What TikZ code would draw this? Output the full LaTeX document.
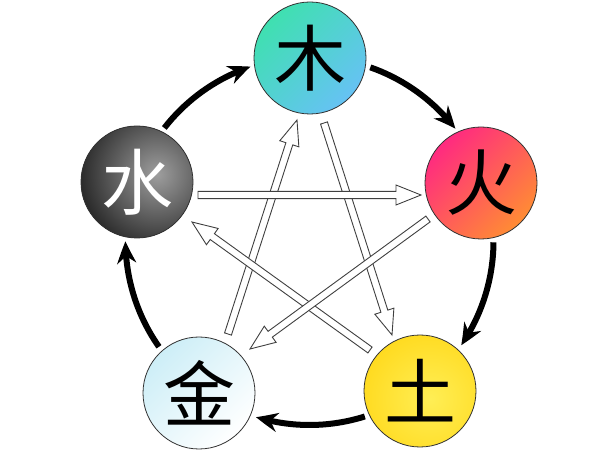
\documentclass[tikz,border=0pt]{standalone}
\usepackage{fontspec}
\newfontfamily\cjk{Noto Sans CJK SC}
\usetikzlibrary{arrows.meta,bending,calc}
\definecolor{muA}{HTML}{3FE0B0}
\definecolor{muB}{HTML}{66C2F4}
\definecolor{huoA}{HTML}{FF2A80}
\definecolor{huoB}{HTML}{FF8C34}
\definecolor{tuA}{HTML}{FFEE55}
\definecolor{tuB}{HTML}{FFCF00}
\definecolor{jinA}{HTML}{CDEEF7}
\definecolor{jinB}{HTML}{FFFFFF}
\newcommand\hollowarrow[2]{%
  \draw[hollowstyle] let \p1=(#1), \p2=(#2), \n1={atan2(\y2-\y1,\x2-\x1)} in
    ($(\p1)+(\n1+90:3.6pt)$) -- ($(\p2)+(\n1:-25pt)+(\n1+90:3.6pt)$)
    -- ($(\p2)+(\n1:-25pt)+(\n1+90:10pt)$) -- (\p2)
    -- ($(\p2)+(\n1:-25pt)+(\n1-90:10pt)$) -- ($(\p2)+(\n1:-25pt)+(\n1-90:3.6pt)$)
    -- ($(\p1)+(\n1-90:3.6pt)$) -- cycle;}
\begin{document}
\begin{tikzpicture}[x=1pt,y=1pt,
  elem/.style={circle, draw=black!80, line width=0.8pt, minimum size=112pt, inner sep=0pt,
    font=\cjk\fontsize{72}{72}\selectfont},
  cycarrow/.style={line width=6pt, -{Stealth[length=22pt,width=19pt,bend]}},
  hollowstyle/.style={draw=black!75, line width=0.9pt, fill=white, line join=miter}]
\fill[white] (0,0) rectangle (600,450);
\useasboundingbox (0,0) rectangle (600,450);
\coordinate (C) at (309.5,209);
% elements
\node[elem, top color=muA, bottom color=muB, shading angle=45] (mu) at (310,392) {木};
\node[elem, top color=huoA, bottom color=huoB, shading angle=45] (huo) at (481,267) {火};
\node[elem, path picture={\shade[inner color=tuA, outer color=tuB]
    ($(path picture bounding box.center)+(10pt,-8pt)$) circle (110pt);}] (tu) at (420,59) {土};
\node[elem, top color=jinA, bottom color=jinB, shading angle=45] (jin) at (199,57) {金};
\node[elem, text=white, path picture={\fill[black] (path picture bounding box.south west) rectangle (path picture bounding box.north east);
    \shade[inner color=black!38, outer color=black]
    ($(path picture bounding box.center)+(20pt,8pt)$) circle (105pt);}] (shui) at (137,268) {水};
% generating cycle
\draw[cycarrow] ([shift={(70.7:184pt)}]C) arc[start angle=70.7, end angle=37.6, radius=184pt];
\draw[cycarrow] ([shift={(-0.4:184pt)}]C) arc[start angle=-0.4, end angle=-34.5, radius=184pt];
\draw[cycarrow] ([shift={(-72.5:184pt)}]C) arc[start angle=-72.5, end angle=-106.9, radius=184pt];
\draw[cycarrow] ([shift={(215.1:184pt)}]C) arc[start angle=215.1, end angle=180.1, radius=184pt];
\draw[cycarrow] ([shift={(142.1:184pt)}]C) arc[start angle=142.1, end angle=108.7, radius=184pt];
% overcoming cycle end points
\coordinate (muS) at (324,327);  \coordinate (tuE) at (392,115);
\coordinate (jinS) at (228,116); \coordinate (muE) at (297,330);
\coordinate (tuS) at (370,100);  \coordinate (shuiE) at (192,228);
\coordinate (huoS) at (428,231); \coordinate (jinE) at (250,101);
\coordinate (shuiS) at (198,255); \coordinate (huoE) at (421,255);
\hollowarrow{muS}{tuE}
\hollowarrow{jinS}{muE}
\hollowarrow{tuS}{shuiE}
\hollowarrow{huoS}{jinE}
\hollowarrow{shuiS}{huoE}
\end{tikzpicture}
\end{document}
